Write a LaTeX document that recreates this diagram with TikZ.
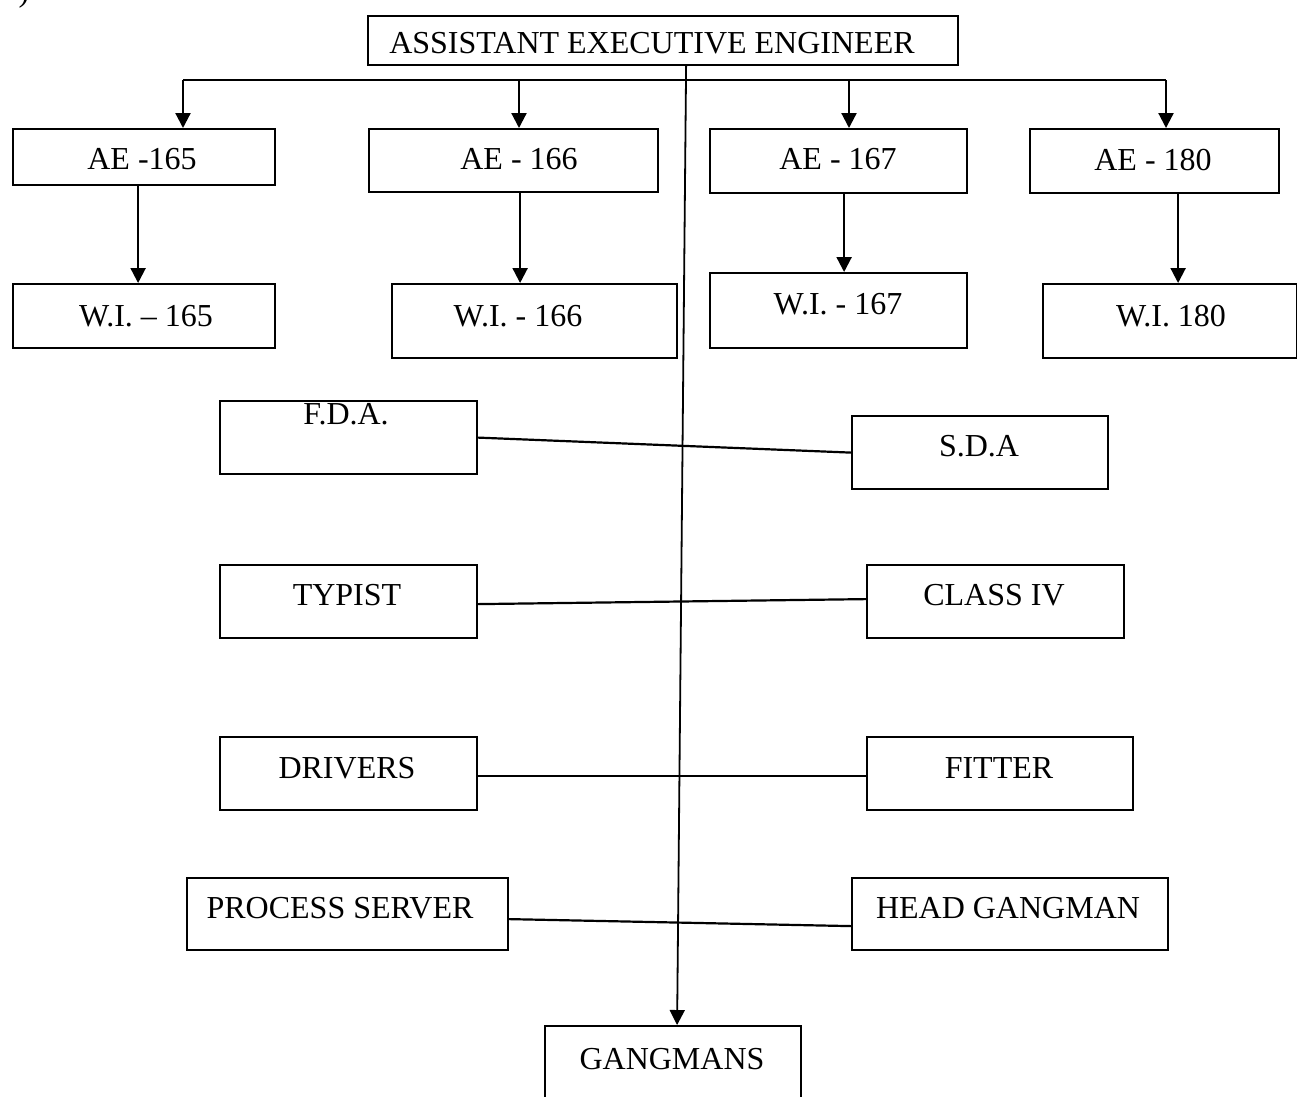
\documentclass[tikz,border=0pt]{standalone}
\usepackage{fontspec}
\setmainfont{Liberation Serif}
\usetikzlibrary{arrows.meta,calc}
\tikzset{
  box/.style={draw, line width=2.2pt, rectangle, inner sep=0pt},
  lbl/.style={anchor=base, inner sep=0pt, font=\fontsize{32}{34}\selectfont},
  link/.style={line width=2.2pt},
  arr/.style={line width=2.2pt, -{Triangle[width=15pt,length=15pt]}},
}
\newcommand{\mkbox}[5]{% name, x1, y1, x2, y2
  \node[box, minimum width=#4pt-#2pt, minimum height=#5pt-#3pt, anchor=north west] (#1) at (#2,#3) {};}
\begin{document}
\begin{tikzpicture}[x=1pt,y=-1pt]
\useasboundingbox (0,0) rectangle (1297,1096);
\fill[white] (0,0) rectangle (1297,1096);
\node[lbl] (paren) at (24,1) {)};

% boxes
\mkbox{aee}{367}{15}{957}{64}
\mkbox{ae165}{12}{128}{274}{184}
\mkbox{ae166}{368}{128}{657}{191}
\mkbox{ae167}{709}{128}{966}{192}
\mkbox{ae180}{1029}{128}{1278}{192}
\mkbox{wi165}{12}{283}{274}{347}
\mkbox{wi166}{391}{283}{676}{357}
\mkbox{wi167}{709}{272}{966}{347}
\mkbox{wi180}{1042}{283}{1296}{357}
\mkbox{fda}{219}{400}{476}{473}
\mkbox{sda}{851}{415}{1107}{488}
\mkbox{typist}{219}{564}{476}{637}
\mkbox{classiv}{866}{564}{1123}{637}
\mkbox{drivers}{219}{736}{476}{809}
\mkbox{fitter}{866}{736}{1132}{809}
\mkbox{process}{186}{877}{507}{949}
\mkbox{headg}{851}{877}{1167}{949}
\mkbox{gang}{544}{1025}{800}{1110}

% labels
\node[lbl] (taee) at (652,53) {ASSISTANT EXECUTIVE ENGINEER};
\node[lbl] (tae165) at (142,169) {AE -165};
\node[lbl] (tae166) at (519,169) {AE - 166};
\node[lbl] (tae167) at (838,169) {AE - 167};
\node[lbl] (tae180) at (1153,170) {AE - 180};
\node[lbl] (twi165) at (146,326) {W.I. – 165};
\node[lbl] (twi166) at (518,326) {W.I. - 166};
\node[lbl] (twi167) at (838,314) {W.I. - 167};
\node[lbl] (twi180) at (1171,326) {W.I. 180};
\node[lbl] (tfda) at (346,424) {F.D.A.};
\node[lbl] (tsda) at (979,456) {S.D.A};
\node[lbl] (ttypist) at (347,605) {TYPIST};
\node[lbl] (tclassiv) at (994,605) {CLASS IV};
\node[lbl] (tdrivers) at (347,778) {DRIVERS};
\node[lbl] (tfitter) at (999,778) {FITTER};
\node[lbl] (tprocess) at (340,918) {PROCESS SERVER};
\node[lbl] (theadg) at (1008,918) {HEAD GANGMAN};
\node[lbl] (tgang) at (672,1069) {GANGMANS};

% bus
\coordinate (b1) at (183,80);
\coordinate (b2) at (519,80);
\coordinate (b3) at (849,80);
\coordinate (b4) at (1166,80);
\draw[link] (b1) -- (b4);
\draw[arr] (b1) -- (b1 |- ae165.north);
\draw[arr] (b2) -- (b2 |- ae166.north);
\draw[arr] (b3) -- (b3 |- ae167.north);
\draw[arr] (b4) -- (b4 |- ae180.north);

% AE -> W.I.
\draw[arr] ([xshift=-6pt]ae165.south) -- ([xshift=-6pt]ae165.south |- wi165.north);
\draw[arr] ([xshift=6.5pt]ae166.south) -- ([xshift=6.5pt]ae166.south |- wi166.north);
\draw[arr] ([xshift=5.5pt]ae167.south) -- ([xshift=5.5pt]ae167.south |- wi167.north);
\draw[arr] ([xshift=23.5pt]ae180.south) -- ([xshift=23.5pt]ae180.south |- wi180.north);

% central line
\draw[arr, line width=1.8pt] ([xshift=23pt]aee.south) -- ([xshift=4pt]gang.north);

% side links
\draw[link] (fda.east) -- (sda.west);
\draw[link] ([yshift=-2.5pt]typist.east) -- ([yshift=2.5pt]classiv.west);
\draw[link] ([yshift=-2.5pt]drivers.east) -- ([yshift=-2.5pt]fitter.west);
\draw[link] ([yshift=-5pt]process.east) -- ([yshift=-12pt]headg.west);
\end{tikzpicture}
\end{document}
